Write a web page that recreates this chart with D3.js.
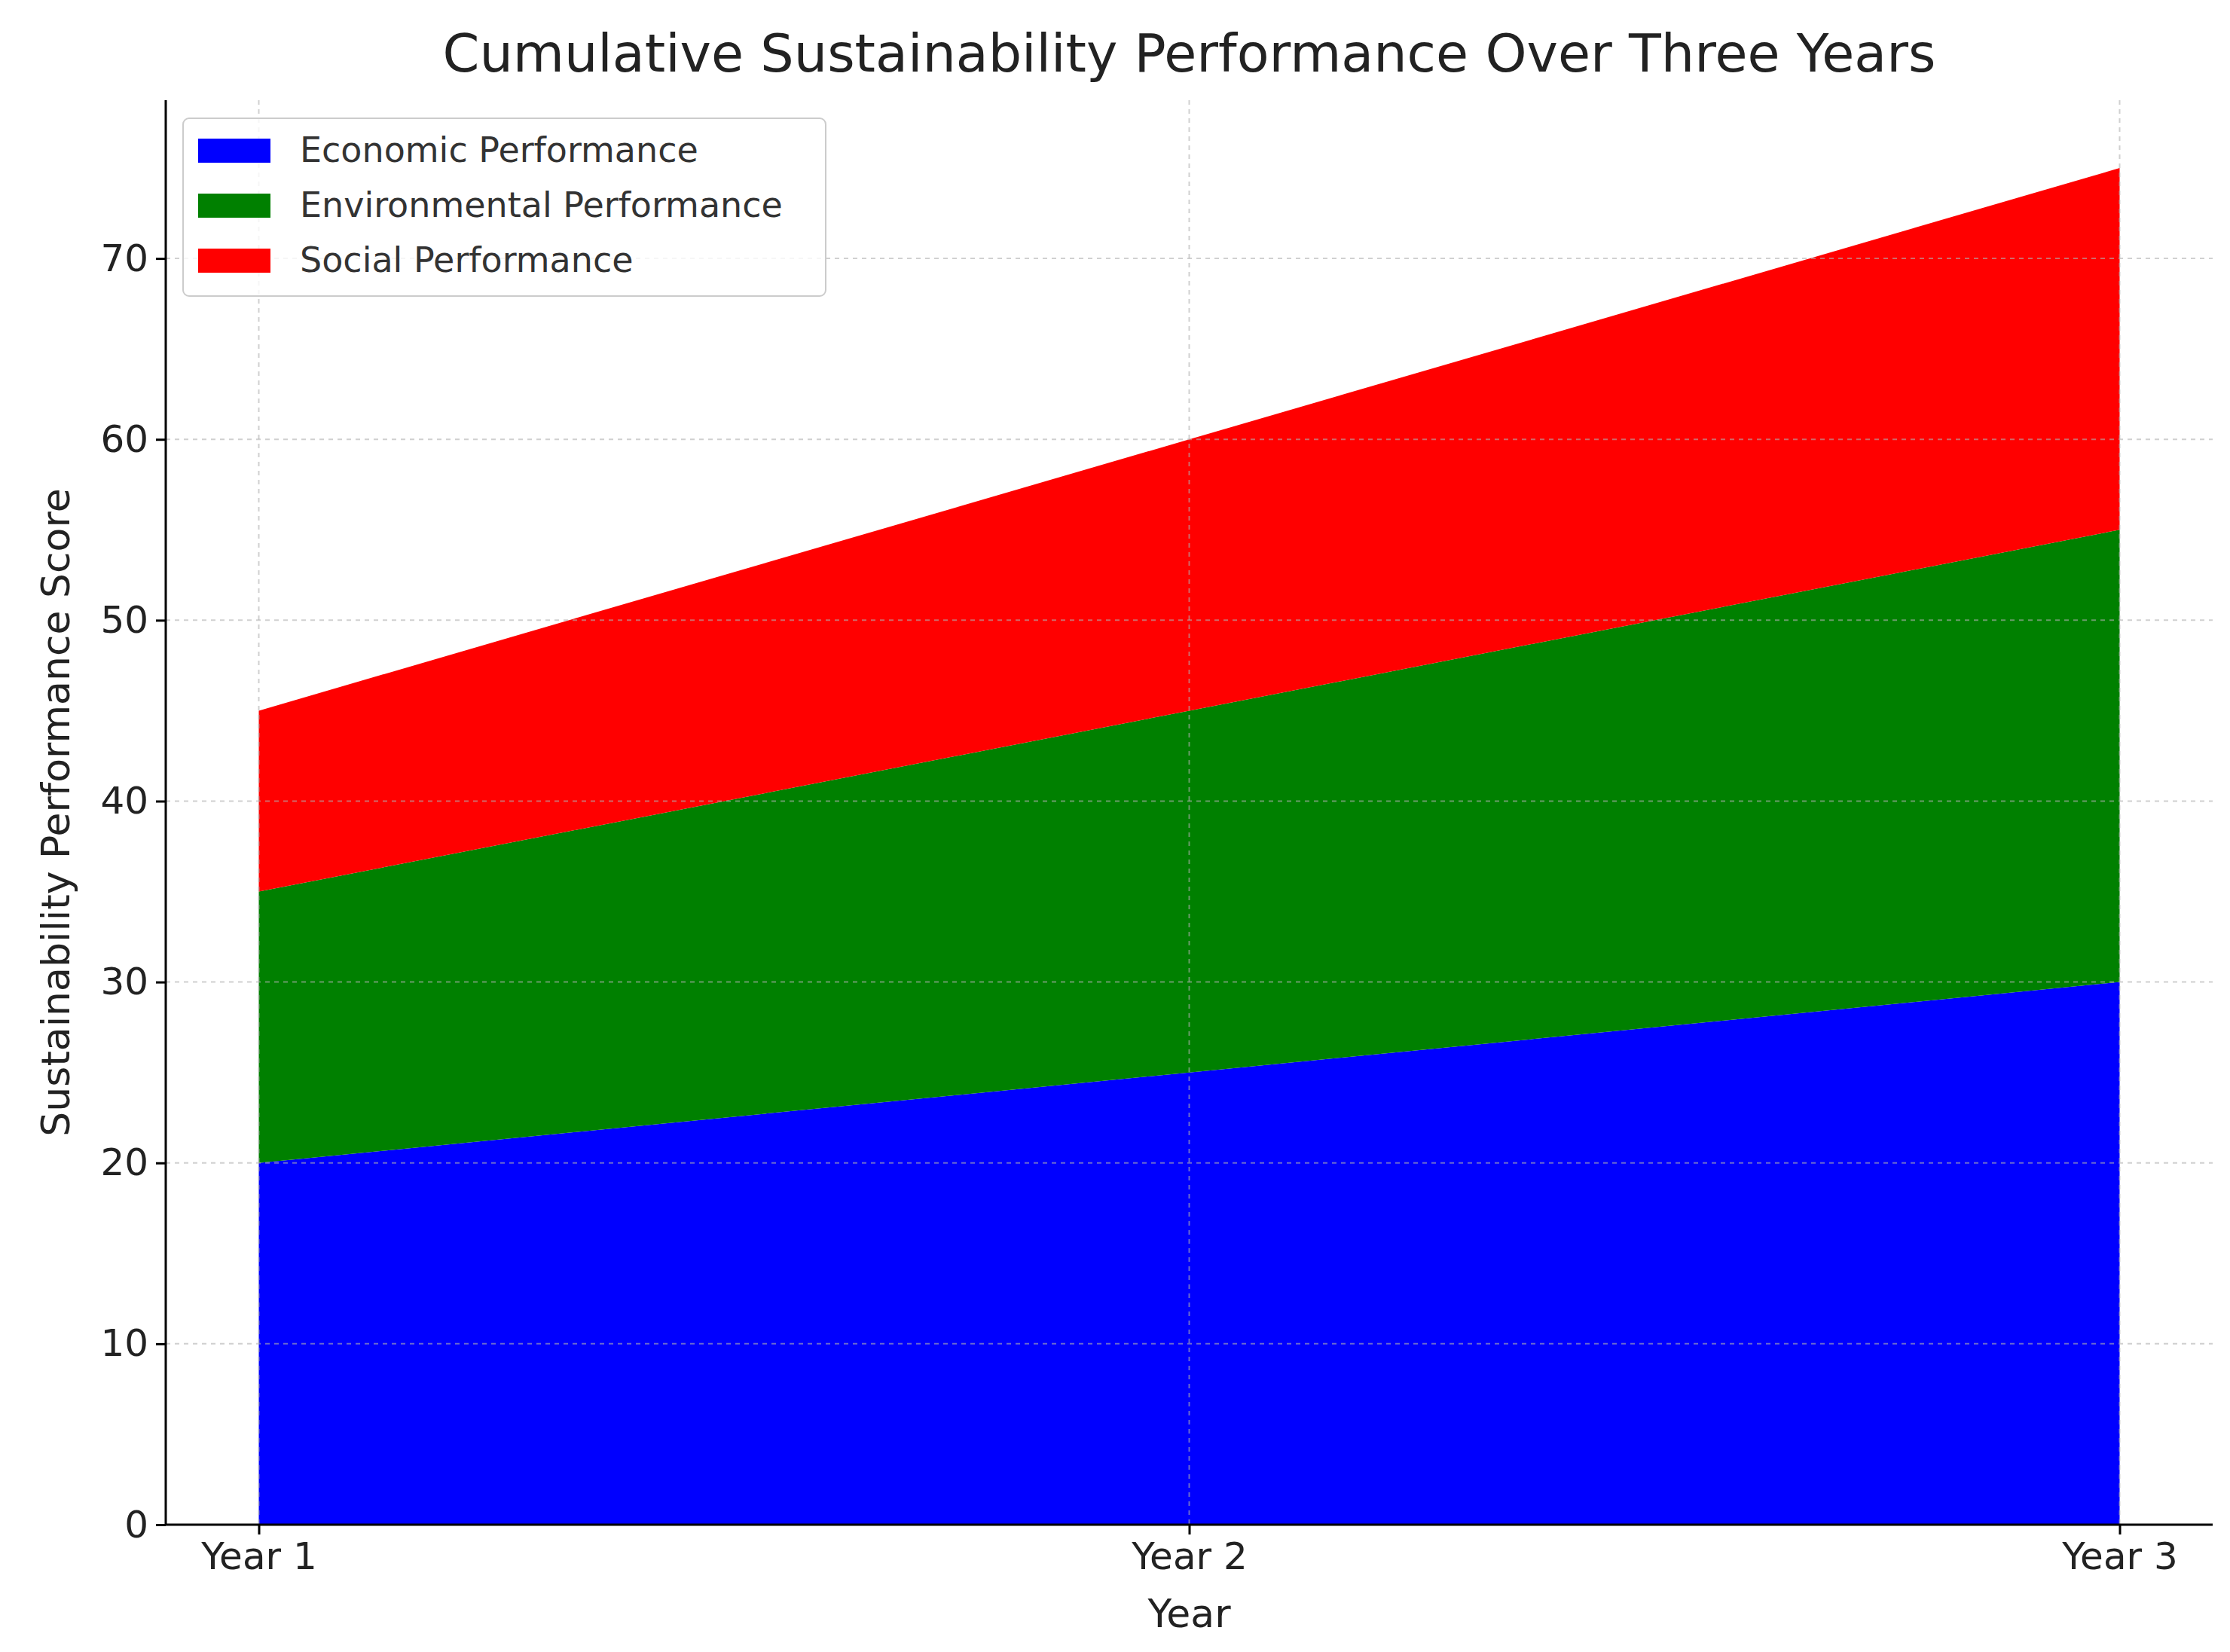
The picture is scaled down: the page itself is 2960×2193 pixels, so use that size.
<!DOCTYPE html>
<html><head><meta charset="utf-8">
<script src="https://cdn.jsdelivr.net/npm/d3@7"></script>
<style>body{margin:0;background:#fff}</style></head>
<body><svg id="c" width="2960" height="2193"></svg>
<script>
const years = ["Year 1","Year 2","Year 3"];
const economic = [20,25,30];
const environmental = [15,20,25];
const social = [10,15,20];
const seriesNames = ["Economic Performance","Environmental Performance","Social Performance"];
const colors = ["#0000ff","#008000","#ff0000"];
const yTicks = [0,10,20,30,40,50,60,70];

const svg = d3.select("#c");
const L=220,R=2937,T=133,B=2024;
const font="'DejaVu Sans', sans-serif";
const x = d3.scalePoint().domain(years).range([0,1]);
const xs = d3.scaleLinear().domain([-0.05,1.05]).range([L,R]);
const X = d=>xs(x(d));
const y = d3.scaleLinear().domain([0,78.75]).range([B,T]);

const rows = years.map((yr,i)=>({yr,e:economic[i],v:environmental[i],s:social[i]}));
const stack = d3.stack().keys(["e","v","s"])(rows);
const area = d3.area().x(d=>X(d.data.yr)).y0(d=>y(d[0])).y1(d=>y(d[1]));
svg.selectAll("path.a").data(stack).enter().append("path").attr("d",area).attr("fill",(d,i)=>colors[i]);

// grid
const g = svg.append("g");
yTicks.forEach(t=>g.append("line").attr("x1",L).attr("x2",R).attr("y1",y(t)).attr("y2",y(t))
  .attr("stroke","#b0b0b0").attr("stroke-opacity",0.6).attr("stroke-width",2).attr("stroke-dasharray","6,6"));
years.forEach(t=>g.append("line").attr("x1",X(t)).attr("x2",X(t)).attr("y1",T).attr("y2",B)
  .attr("stroke","#b0b0b0").attr("stroke-opacity",0.6).attr("stroke-width",2).attr("stroke-dasharray","6,6"));

// axes
const ya = svg.append("g").attr("transform",`translate(${L},0)`).call(d3.axisLeft(y).tickValues(yTicks).tickSize(13).tickPadding(10));
const xa = svg.append("g").attr("transform",`translate(0,${B})`).call(d3.axisBottom(d3.scaleOrdinal().domain(years).range(years.map(X))).tickSize(13).tickPadding(10));
[ya,xa].forEach(a=>{a.selectAll("text").attr("font-family",font).attr("font-size",50).attr("fill","#222");
  a.selectAll("line,path").attr("stroke","#000").attr("stroke-width",3);});
xa.select(".domain").attr("d",`M${L},0H${R}`);
ya.select(".domain").attr("d",`M0,${B}V${T}`);

svg.append("text").attr("x",(L+R)/2).attr("y",95).attr("text-anchor","middle").attr("font-family",font).attr("font-size",70).attr("fill","#222").text("Cumulative Sustainability Performance Over Three Years");
svg.append("text").attr("x",(L+R)/2).attr("y",2160).attr("text-anchor","middle").attr("font-family",font).attr("font-size",52).attr("fill","#222").text("Year");
svg.append("text").attr("transform",`translate(92,${(T+B)/2}) rotate(-90)`).attr("text-anchor","middle").attr("font-family",font).attr("font-size",52).attr("fill","#222").text("Sustainability Performance Score");

// legend
const lg = svg.append("g");
lg.append("rect").attr("x",243).attr("y",157).attr("width",853).attr("height",236).attr("rx",8).attr("fill","#fff").attr("fill-opacity",0.8).attr("stroke","#ccc").attr("stroke-width",2);
seriesNames.forEach((n,i)=>{
  const cy=199+i*73;
  lg.append("rect").attr("x",263).attr("y",cy-15).attr("width",96).attr("height",32).attr("fill",colors[i]);
  lg.append("text").attr("x",398).attr("y",cy+16).attr("font-family",font).attr("font-size",46).attr("fill","#333").text(n);
});
</script></body></html>
